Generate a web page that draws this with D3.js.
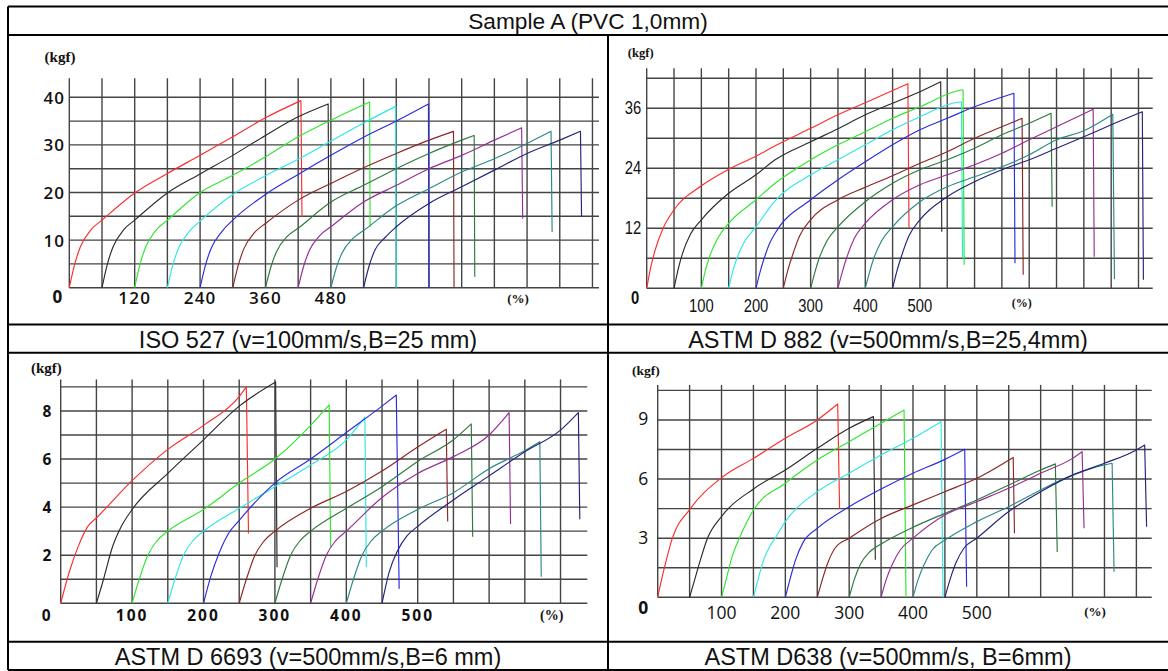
<!DOCTYPE html>
<html>
<head>
<meta charset="utf-8">
<script src="https://cdn.jsdelivr.net/npm/d3@7"></script>
<style>
  html, body { margin: 0; padding: 0; background: #ffffff; }
  svg { display: block; }
</style>
</head>
<body>
<svg id="chart" width="1168" height="671"></svg>
<script>
// ---- Data: tensile curves, strain (%) vs force (kgf); last point of each curve is the break drop ----
const titleText = "Sample A (PVC 1,0mm)";
const captionTexts = [
  "ISO 527 (v=100mm/s,B=25 mm)",
  "ASTM D 882 (v=500mm/s,B=25,4mm)",
  "ASTM D 6693 (v=500mm/s,B=6 mm)",
  "ASTM D638 (v=500mm/s, B=6mm)"
];

const iso527Curves = [
  [[0,0],[10,5],[20,8.5],[40,12.2],[60,14.2],[120,19.9],[180,24],[240,27.8],[300,31.7],[360,35.7],[425,39.3],[427,14.9]],
  [[60,0],[70,5],[80,8.5],[100,12.2],[120,14.2],[180,19.9],[240,23.9],[300,27.8],[360,32],[420,35.9],[475,38.6],[476,15]],
  [[120,0],[130,5],[140,8.5],[160,12.2],[180,14.2],[240,20],[300,23.6],[360,27.5],[420,31.7],[480,35.2],[551,39],[552,12.8]],
  [[180,0],[190,4.8],[200,8.2],[220,11.8],[240,14],[300,19.6],[360,23.5],[420,27],[480,30.8],[540,34.6],[599,38.1],[600,0]],
  [[240,0],[250,4.8],[260,8.2],[280,11.8],[300,14.2],[360,19.6],[420,23.8],[480,27.8],[540,31.6],[600,35],[659,38.6],[660,0]],
  [[300,0],[310,4.7],[320,8.1],[340,11.6],[360,13.5],[420,18.4],[480,21.9],[540,25.2],[600,28.2],[660,31],[705,32.85],[706,0]],
  [[360,0],[370,4.4],[380,7.5],[400,10.8],[420,12.5],[480,18],[540,21.5],[600,25],[660,28.2],[720,31],[743,32],[744,2.3]],
  [[420,0],[430,4.5],[440,7.7],[460,11],[480,12.8],[540,18],[600,21.5],[660,25],[720,27.8],[780,31],[830,33.6],[832,14.5]],
  [[480,0],[490,4.2],[500,7.2],[520,10.3],[540,12],[600,17.2],[660,20.8],[720,24.3],[780,27.1],[840,30.3],[884,32.85],[886,11.7]],
  [[540,0],[550,4.5],[560,7.7],[580,10.6],[600,12.8],[660,17.7],[720,21.2],[780,24.7],[840,28.2],[900,31],[938,32.85],[940,14.9]]
];

const d882Curves = [
  [[0,0],[8,4.5],[15,7.5],[30,12],[50,15.7],[100,20.5],[150,23.8],[200,26.4],[235,28.5],[300,32],[350,34.7],[400,37.1],[478,40.9],[480,12]],
  [[50,0],[58,4],[65,6.8],[80,10.8],[100,13.7],[150,19],[200,22.7],[235,25.7],[300,29.3],[350,31.9],[400,34.7],[450,37],[500,39.3],[538,41.3],[540,11.3]],
  [[100,0],[108,3.8],[115,6.3],[130,10],[150,13],[200,17.7],[235,21],[300,25.7],[350,28.7],[400,31.3],[450,34],[500,36.3],[563,39.3],[579,39.7],[581,4.7]],
  [[150,0],[158,3.6],[165,6],[180,9.5],[200,12.3],[235,17.5],[300,22.7],[350,25.7],[400,28.7],[450,31.7],[500,34.3],[560,37],[576,37.3],[578,6]],
  [[200,0],[208,3.5],[215,6],[225,9],[235,11],[300,17.7],[350,21.7],[400,25.3],[450,28.7],[500,31.7],[550,34],[600,36.3],[672,39],[674,5]],
  [[250,0],[258,3.5],[265,6],[280,10.5],[300,13.7],[350,17.7],[400,20.2],[450,22.5],[500,25],[550,27.3],[600,30],[650,32.3],[687,34],[689,2.7]],
  [[300,0],[308,3.3],[315,5.8],[330,9.5],[350,12.3],[400,17.3],[450,21],[500,23.7],[550,25.7],[600,28],[650,30.7],[700,33],[740,35],[742,16.3]],
  [[350,0],[358,3.3],[365,5.8],[380,10],[400,13],[450,17.7],[500,20.7],[550,22.7],[600,24.7],[650,27],[700,29.7],[750,32.3],[817,35.8],[819,6.3]],
  [[400,0],[408,3.3],[415,5.8],[430,9.5],[450,12.3],[500,17.3],[550,20.3],[600,22.3],[650,24.3],[700,26.7],[750,29.7],[800,31.5],[853,34.8],[856,1.8]],
  [[450,0],[458,3.5],[465,6],[480,10.5],[500,13.7],[550,18.3],[600,21.3],[650,23.7],[700,25.7],[750,28],[800,30.3],[850,32.7],[907,35.3],[909,1.7]]
];

const d6693Curves = [
  [[0,0],[12,1.3],[25,2.4],[38,3.2],[50,3.55],[100,5.1],[150,6.4],[200,7.4],[250,8.6],[260,9],[263,2.9]],
  [[50,0],[60,1],[72,2.3],[85,3.2],[100,3.9],[150,5.4],[200,6.8],[250,8.2],[301,9.2],[303,1.5]],
  [[100,0],[110,1],[122,2],[135,2.6],[150,3],[200,3.9],[250,5],[300,6],[350,7.4],[376,8.25],[378,2.35]],
  [[150,0],[160,1],[172,2],[185,2.6],[200,3],[250,3.95],[300,4.85],[350,5.75],[400,6.8],[426,7.74],[428,1.5]],
  [[200,0],[210,1.1],[222,2.1],[235,2.9],[250,3.45],[300,5],[350,6],[400,7.1],[450,8.2],[470,8.66],[474,0.6]],
  [[250,0],[260,1],[272,2],[285,2.6],[300,3],[350,3.95],[400,4.65],[450,5.5],[500,6.5],[540,7.24],[542,3.4]],
  [[300,0],[310,1],[322,2],[335,2.6],[350,3],[400,3.95],[450,4.85],[500,5.9],[550,6.8],[575,7.46],[577,2.77]],
  [[350,0],[360,1],[372,2],[385,2.6],[400,3],[450,4.4],[500,5.4],[550,6.1],[600,7],[628,7.93],[630,3.3]],
  [[400,0],[410,1],[422,2],[435,2.6],[450,3],[500,3.9],[550,4.6],[600,5.6],[650,6.35],[671,6.72],[673,1.1]],
  [[450,0],[460,1.3],[472,2.2],[485,2.8],[500,3.2],[550,4.3],[600,5.3],[650,6.3],[700,7.2],[725,7.93],[727,3.5]]
];

const d638Curves = [
  [[0,0],[6,0.9],[12,1.7],[23,3],[50,4.45],[100,6.07],[150,7.05],[200,8.07],[250,9],[282,9.81],[285,4.5]],
  [[50,0],[58,0.9],[66,1.8],[78,3],[100,4.1],[150,5.5],[200,6.46],[250,7.56],[300,8.58],[338,9.17],[341,1.9]],
  [[100,0],[108,1],[116,2],[128,3],[150,4.43],[200,5.79],[250,6.97],[300,7.9],[350,8.83],[386,9.5],[389,0]],
  [[150,0],[158,1],[166,1.9],[176,2.6],[184,3],[200,3.84],[250,5.36],[300,6.3],[350,7.22],[400,8.07],[444,8.91],[447,0]],
  [[200,0],[208,1],[216,1.9],[228,2.8],[250,3.5],[300,4.6],[350,5.5],[400,6.3],[450,7],[481,7.51],[484,0.54]],
  [[250,0],[258,0.9],[266,1.7],[278,2.5],[300,3],[350,4],[400,4.69],[450,5.36],[500,6.04],[557,7.1],[559,3.25]],
  [[300,0],[308,0.9],[318,1.7],[332,2.3],[350,2.7],[400,3.55],[450,4.26],[500,4.94],[550,5.7],[600,6.46],[623,6.77],[626,2.3]],
  [[350,0],[358,0.9],[368,1.7],[380,2.4],[400,3],[450,4.18],[500,4.85],[550,5.53],[600,6.3],[650,7.05],[665,7.39],[668,3.5]],
  [[400,0],[408,0.9],[418,1.7],[430,2.4],[450,2.9],[500,3.84],[550,4.6],[600,5.45],[650,6.2],[700,6.72],[712,6.8],[715,1.3]],
  [[450,0],[458,0.9],[468,1.8],[480,2.5],[500,3],[550,4.35],[600,5.36],[650,6.2],[700,6.8],[750,7.48],[763,7.73],[766,3.58]]
];

const isoXTicks = [120, 240, 360, 480];
const isoYTicks = [10, 20, 30, 40];
const d882XTicks = [100, 200, 300, 400, 500];
const d882YTicks = [12, 24, 36];
const d6693XTicks = [100, 200, 300, 400, 500];
const d6693YTicks = [2, 4, 6, 8];
const d638XTicks = [100, 200, 300, 400, 500];
const d638YTicks = [3, 6, 9];

// ---- Styles ----
const curveColors = ["#ff2b2b", "#2b2b2b", "#2fe62f", "#30e6e6", "#2b2be0",
                     "#8c2525", "#2b7a3d", "#962d96", "#2b8985", "#23237c"];
const gridColor = "#444444";
const inkColor = "#111111";
const serifBold = { family: "'Liberation Serif','Times New Roman',serif", weight: 700 };

// ---- Panel layout (pixel placement of each plot) ----
const panels = [
  {
    curves: iso527Curves, xTicks: isoXTicks, yTicks: isoYTicks,
    xDomain: [0, 972], xRange: [69.3, 599], yDomain: [0, 40], yRange: [287.7, 97.3],
    xStep: 60, xGridMax: 960, yStep: 5, yGridMax: 40, vTop: 44,
    tickFont: { family: "'Open Sans',sans-serif", size: 17, weight: 600, ls: 1.2, sx: 1 },
    yLabelDx: -15, yLabelDy: 0, xLabelDy: 9.5, zeroDx: -11.3, zeroDy: 9,
    kgf: { x: 60, y: 57, size: 15 }, pct: { x: 518, y: 298, size: 13 }
  },
  {
    curves: d882Curves, xTicks: d882XTicks, yTicks: d882YTicks,
    xDomain: [0, 926], xRange: [646.7, 1152.7], yDomain: [0, 42], yRange: [288.3, 78.3],
    xStep: 50, xGridMax: 900, yStep: 6, yGridMax: 42, vTop: 44,
    tickFont: { family: "'Liberation Sans',Arial,sans-serif", size: 18.5, weight: 400, ls: 0, sx: 0.8 },
    yLabelDx: -13.7, yLabelDy: 0, xLabelDy: 18, zeroDx: -11.7, zeroDy: 9.7,
    kgf: { x: 640.7, y: 53.3, size: 12.5 }, pct: { x: 1021.7, y: 303.3, size: 12 }
  },
  {
    curves: d6693Curves, xTicks: d6693XTicks, yTicks: d6693YTicks,
    xDomain: [0, 737.5], xRange: [60.7, 587.3], yDomain: [0, 9], yRange: [603.3, 386.9],
    xStep: 50, xGridMax: 700, yStep: 1, yGridMax: 9, vTop: 9.31,
    tickFont: { family: "'Open Sans',sans-serif", size: 15.5, weight: 700, ls: 2, sx: 1 },
    yLabelDx: -12.7, yLabelDy: 0, xLabelDy: 11.7, zeroDx: -13.4, zeroDy: 11.7,
    kgf: { x: 46.3, y: 368.3, size: 15 }, pct: { x: 551.7, y: 615, size: 14 }
  },
  {
    curves: d638Curves, xTicks: d638XTicks, yTicks: d638YTicks,
    xDomain: [0, 774], xRange: [657.7, 1151.7], yDomain: [0, 10.5], yRange: [597.3, 390.4],
    xStep: 50, xGridMax: 750, yStep: 1.5, yGridMax: 10.5, vTop: 10.78,
    tickFont: { family: "'Open Sans',sans-serif", size: 17.5, weight: 400, ls: 0, sx: 1 },
    yLabelDx: -14.4, yLabelDy: -1.5, xLabelDy: 15, zeroDx: -14.4, zeroDy: 9.4,
    kgf: { x: 645.8, y: 370, size: 13.5 }, pct: { x: 1095, y: 611.7, size: 13 }
  }
];

const svg = d3.select("#chart");
svg.append("rect").attr("width", 1168).attr("height", 671).attr("fill", "#ffffff");

function addText(g, text, cx, cy, f) {
  g.append("text")
    .attr("transform", `translate(${cx},${cy}) scale(${f.sx || 1},1)`)
    .attr("text-anchor", "middle")
    .attr("dominant-baseline", "central")
    .style("font-family", f.family)
    .style("font-size", f.size + "px")
    .style("font-weight", f.weight)
    .style("letter-spacing", (f.ls || 0) + "px")
    .attr("fill", inkColor)
    .text(text);
}

function drawPanel(p) {
  const x = d3.scaleLinear().domain(p.xDomain).range(p.xRange);
  const y = d3.scaleLinear().domain(p.yDomain).range(p.yRange);
  const g = svg.append("g");

  // grid: vertical lines every xStep, horizontal lines every yStep
  g.append("g").selectAll("line")
    .data(d3.range(0, p.xGridMax + 1e-6, p.xStep))
    .join("line")
    .attr("x1", d => x(d)).attr("x2", d => x(d))
    .attr("y1", y(p.vTop)).attr("y2", y(0))
    .attr("stroke", gridColor).attr("stroke-width", 1.4);

  g.append("g").selectAll("line")
    .data(d3.range(0, p.yGridMax + 1e-6, p.yStep))
    .join("line")
    .attr("x1", x(0)).attr("x2", x(p.xDomain[1]))
    .attr("y1", d => y(d)).attr("y2", d => y(d))
    .attr("stroke", gridColor).attr("stroke-width", 1.4);

  // curves: smooth rise up to the peak, then a straight drop at break
  const rise = d3.line().x(d => x(d[0])).y(d => y(d[1])).curve(d3.curveMonotoneX);
  g.append("g").selectAll("path")
    .data(p.curves)
    .join("path")
    .attr("d", c => {
      const end = c[c.length - 1];
      return rise(c.slice(0, -1)) + `L${x(end[0])},${y(end[1])}`;
    })
    .attr("fill", "none")
    .attr("stroke", (c, i) => curveColors[i])
    .attr("stroke-width", 1.15)
    .attr("stroke-linejoin", "round");

  // tick labels
  const tg = g.append("g");
  p.yTicks.forEach(v => addText(tg, String(v), x(0) + p.yLabelDx, y(v) + p.yLabelDy, p.tickFont));
  p.xTicks.forEach(v => addText(tg, String(v), x(v), y(0) + p.xLabelDy, p.tickFont));
  addText(tg, "0", x(0) + p.zeroDx, y(0) + p.zeroDy, Object.assign({}, p.tickFont, { weight: 700 }));

  // unit labels
  addText(tg, "(kgf)", p.kgf.x, p.kgf.y, Object.assign({ size: p.kgf.size, ls: 0 }, serifBold));
  addText(tg, "(%)", p.pct.x, p.pct.y, Object.assign({ size: p.pct.size, ls: 0 }, serifBold));
}

panels.forEach(drawPanel);

// ---- Table frame with title and caption rows ----
const frame = svg.append("g").attr("stroke", "#000").attr("stroke-width", 2);
const left = 8, right = 1170, divider = 608;
[6.5, 35, 324.5, 352.7, 641.7, 670].forEach(yy => {
  frame.append("line").attr("x1", left).attr("x2", right).attr("y1", yy).attr("y2", yy);
});
frame.append("line").attr("x1", left).attr("x2", left).attr("y1", 6.5).attr("y2", 670);
frame.append("line").attr("x1", divider).attr("x2", divider).attr("y1", 35).attr("y2", 670);

const capFont = "'Liberation Sans',Arial,Helvetica,sans-serif";
svg.append("text").attr("x", 588).attr("y", 28.5).attr("text-anchor", "middle")
  .style("font-family", capFont).style("font-size", "22.7px").attr("fill", inkColor)
  .text(titleText);

const captionPlaces = [[308, 347.5], [888, 347.5], [308, 665], [888, 665]];
captionTexts.forEach((t, i) => {
  svg.append("text").attr("x", captionPlaces[i][0]).attr("y", captionPlaces[i][1])
    .attr("text-anchor", "middle")
    .style("font-family", capFont).style("font-size", "23.5px").attr("fill", inkColor)
    .text(t);
});
</script>
</body>
</html>
